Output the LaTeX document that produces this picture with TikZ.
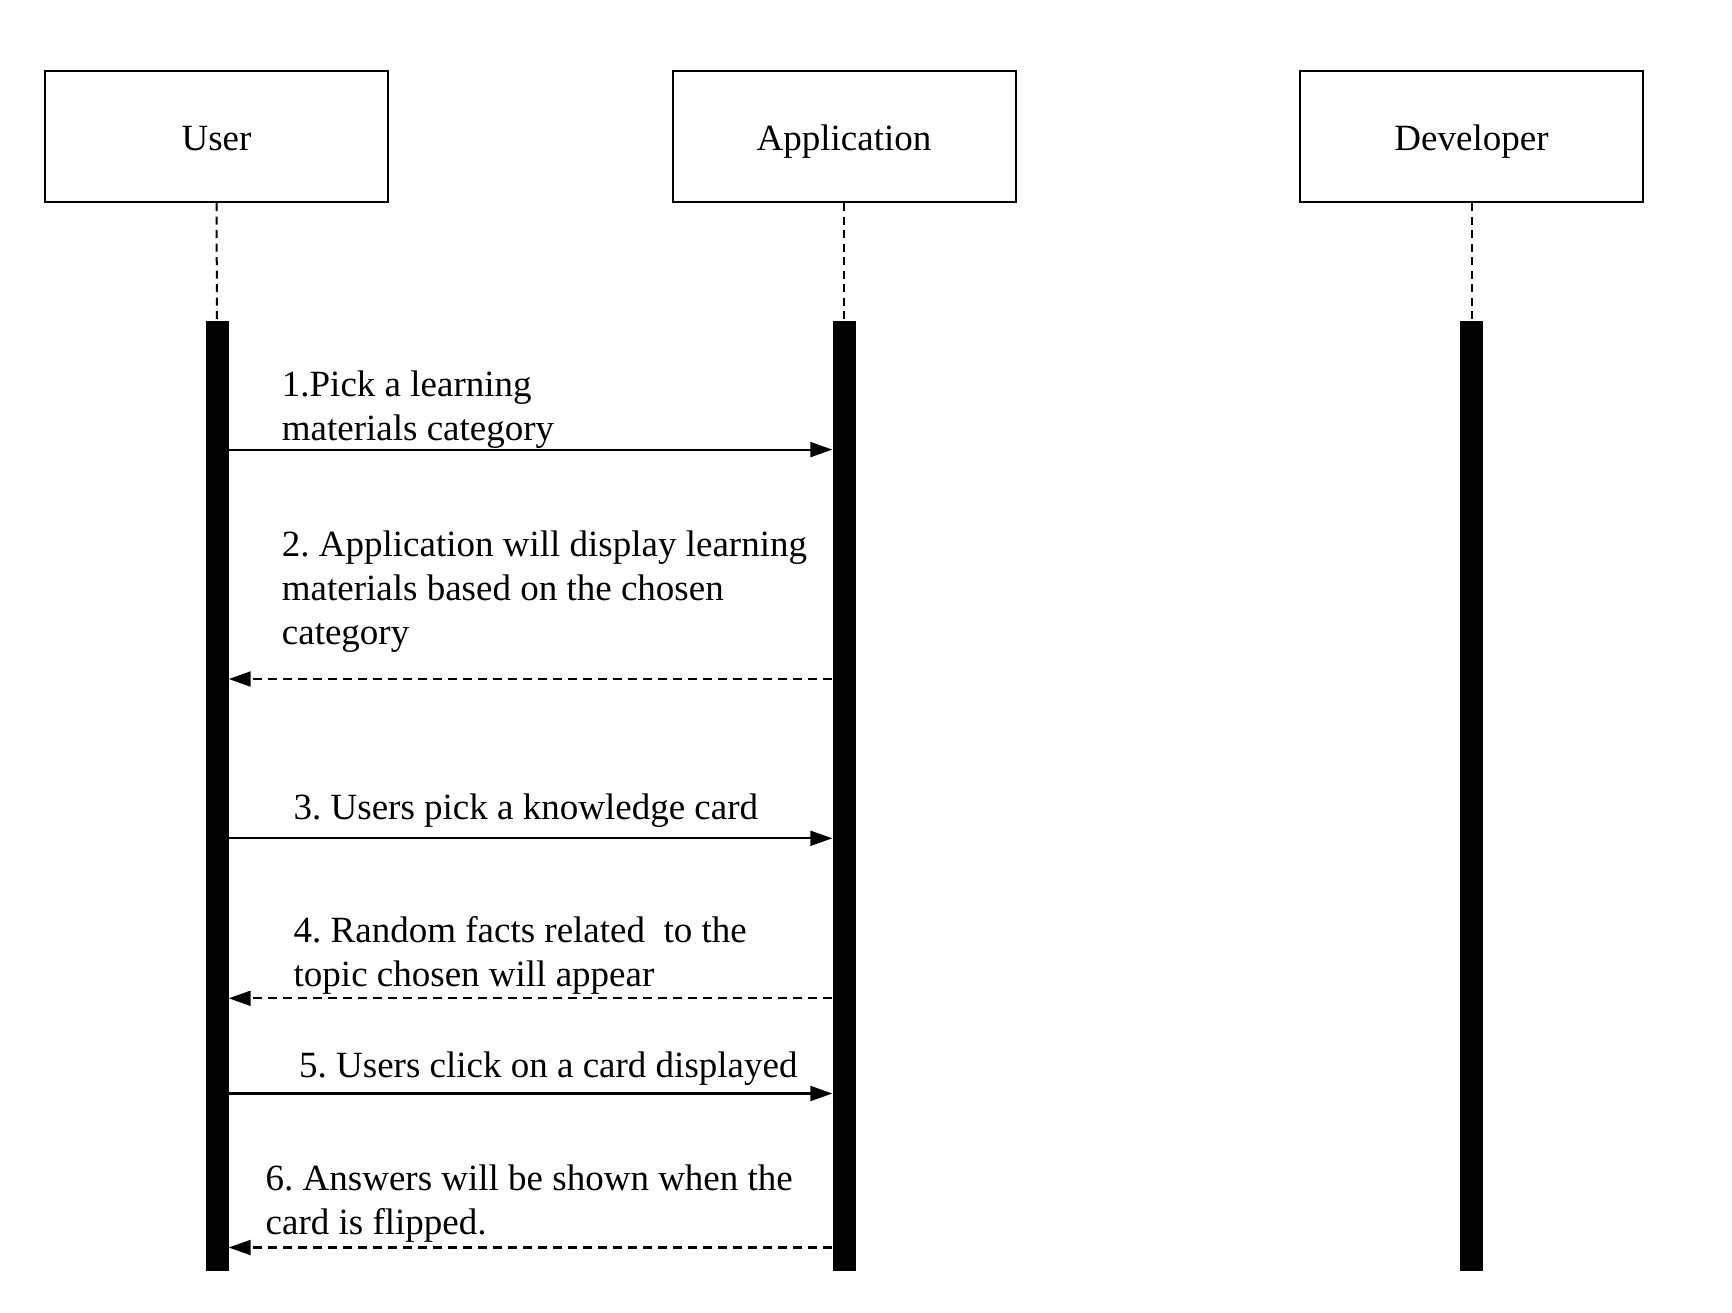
\documentclass[tikz,border=0pt]{standalone}
\usepackage{fontspec}
\setmainfont{Liberation Serif}
\usetikzlibrary{arrows.meta}
\begin{document}
\frenchspacing
\begin{tikzpicture}[x=1pt,y=-1pt,
  font=\fontsize{37}{44}\selectfont\frenchspacing,
  actor/.style={draw, line width=2pt, minimum width=343pt, minimum height=131pt,
    text height=33pt, text depth=6pt, inner sep=0pt},
  activation/.style={fill=black, draw=none, minimum width=23pt, minimum height=950pt, inner sep=0pt},
  lifeline/.style={line width=2pt, dash pattern=on 8pt off 5.5pt},
  call/.style={line width=2.2pt, -{Triangle[length=22pt,width=15pt]}},
  reply/.style={line width=2.2pt, dash pattern=on 9pt off 6pt, -{Triangle[length=22pt,width=15pt]}},
  msg/.style={anchor=base west, align=left, inner sep=0pt}
]
\useasboundingbox[fill=white] (0,0) rectangle (1732,1312);

% participants
\node[actor] (user) at (216.5,136.5) {User};
\node[actor] (app)  at (844,136.5)   {Application};
\node[actor] (dev)  at (1471.5,136.5) {Developer};

% activation bars
\node[activation] (userbar) at (217,796) {};
\node[activation] (appbar)  at (844,796) {};
\node[activation] (devbar)  at (1471.5,796) {};

% lifelines
\draw[lifeline] (user.south) -- (userbar.north);
\draw[lifeline] (app.south)  -- (appbar.north);
\draw[lifeline] (dev.south)  -- (devbar.north);

% message levels
\coordinate (m1) at (0,449.6);
\coordinate (m2) at (0,679);
\coordinate (m3) at (0,838.3);
\coordinate (m4) at (0,998.3);
\coordinate (m5) at (0,1093.5);
\coordinate (m6) at (0,1247.5);

% messages
\draw[call]  (userbar.east |- m1) -- (appbar.west |- m1);
\draw[reply] (appbar.west |- m2)  -- (userbar.east |- m2);
\draw[call]  (userbar.east |- m3) -- (appbar.west |- m3);
\draw[reply] (appbar.west |- m4)  -- (userbar.east |- m4);
\draw[call]  (userbar.east |- m5) -- (appbar.west |- m5);
\draw[reply] (appbar.west |- m6)  -- (userbar.east |- m6);

% message labels (base anchor sits on the last line)
\node[msg] (l1) at (281.7,440.2) {1.Pick a learning\\materials category};
\node[msg] (l2) at (281.7,644.7) {2. Application will display learning\\materials based on the chosen\\category};
\node[msg] (l3) at (293.5,819) {3. Users pick a knowledge card};
\node[msg] (l4) at (293.5,986.7) {4. Random facts related\ \ to the\\topic chosen will appear};
\node[msg] (l5) at (299,1077.7) {5. Users click on a card displayed};
\node[msg] (l6) at (265.5,1234) {6. Answers will be shown when the\\card is flipped.};
\end{tikzpicture}
\end{document}
